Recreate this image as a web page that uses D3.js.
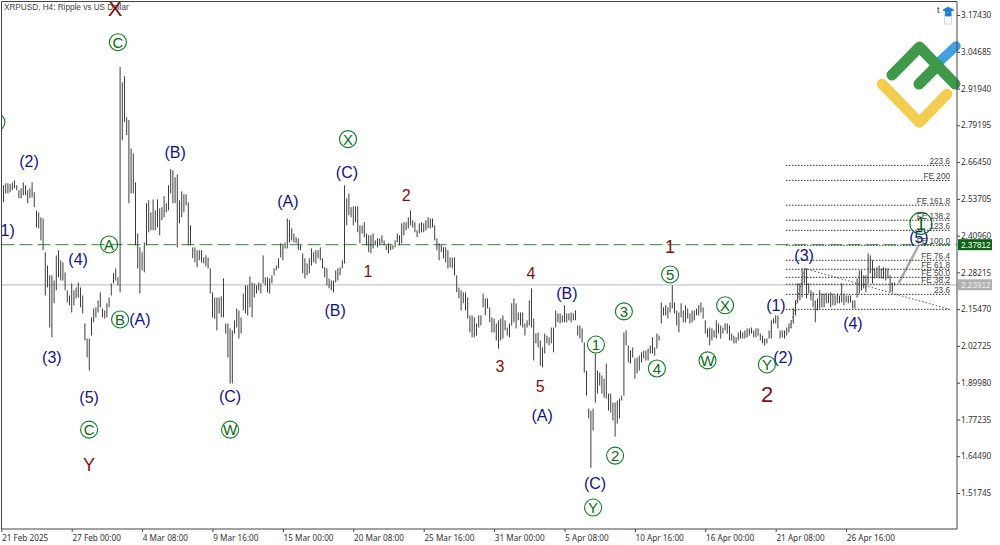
<!DOCTYPE html>
<html>
<head>
<meta charset="utf-8">
<title>XRPUSD, H4</title>
<script src="https://cdn.jsdelivr.net/npm/d3@7/dist/d3.min.js"></script>
<style>
	html, body { margin: 0; padding: 0; background: #fff; overflow: hidden; }
	text { font-family: "Liberation Sans", Arial, sans-serif; }
	.axisText text { font-family: "Noto Sans", sans-serif; font-size: 8.2px; fill: #333; }
</style>
</head>
<body>
<svg id="chart" width="1000" height="545"></svg>
<script>
// bar highs, 10 bars to a row
var highs = [
	2.560,2.584,2.591,2.591,2.588,2.594,2.601,2.584,2.567,2.574,
	2.594,2.584,2.567,2.574,2.594,2.560,2.497,2.490,2.473,2.469,
	2.352,2.306,2.272,2.272,2.254,2.341,2.359,2.324,2.317,2.282,
	2.220,2.202,2.244,2.220,2.230,2.247,2.230,2.202,2.105,2.053,
	2.053,2.126,2.157,2.161,2.185,2.213,2.157,2.150,2.175,2.195,
	2.244,2.279,2.296,2.265,2.994,2.941,2.962,2.820,2.810,2.712,
	2.695,2.594,2.417,2.369,2.352,2.386,2.522,2.532,2.490,2.535,
	2.497,2.535,2.504,2.508,2.546,2.522,2.584,2.640,2.636,2.612,
	2.622,2.532,2.563,2.553,2.553,2.525,2.445,2.369,2.369,2.359,
	2.359,2.359,2.334,2.341,2.334,2.296,2.213,2.195,2.195,2.195,
	2.199,2.261,2.105,2.105,2.088,2.081,2.116,2.157,2.150,2.126,
	2.209,2.237,2.237,2.268,2.247,2.244,2.237,2.247,2.244,2.341,
	2.265,2.265,2.261,2.272,2.296,2.306,2.331,2.383,2.376,2.386,
	2.469,2.463,2.435,2.417,2.404,2.400,2.376,2.348,2.331,2.313,
	2.331,2.365,2.352,2.359,2.359,2.369,2.331,2.300,2.296,2.261,
	2.254,2.254,2.289,2.296,2.300,2.324,2.584,2.539,2.556,2.508,
	2.511,2.511,2.511,2.445,2.445,2.456,2.417,2.411,2.411,2.417,
	2.393,2.400,2.400,2.411,2.393,2.376,2.383,2.376,2.376,2.393,
	2.417,2.411,2.452,2.456,2.456,2.473,2.497,2.463,2.456,2.428,
	2.452,2.456,2.452,2.463,2.473,2.469,2.469,2.445,2.400,2.383,
	2.376,2.369,2.369,2.359,2.334,2.334,2.334,2.272,2.230,2.220,
	2.213,2.213,2.195,2.133,2.133,2.126,2.105,2.133,2.133,2.209,
	2.192,2.192,2.161,2.126,2.122,2.105,2.116,2.122,2.133,2.116,
	2.091,2.105,2.175,2.192,2.175,2.143,2.143,2.143,2.105,2.116,
	2.185,2.227,2.122,2.070,2.074,2.046,2.022,2.070,2.063,2.057,
	2.091,2.091,2.150,2.140,2.140,2.133,2.168,2.140,2.140,2.143,
	2.140,2.150,2.098,2.098,2.088,2.039,1.942,1.810,1.803,1.810,
	2.001,1.942,1.935,1.925,1.914,1.966,1.862,1.862,1.831,1.831,
	1.838,1.845,1.855,2.074,2.081,2.029,2.011,2.022,1.984,1.987,
	1.994,2.005,2.011,2.011,2.018,2.029,2.057,2.022,2.070,2.063,
	2.178,2.161,2.168,2.161,2.178,2.237,2.178,2.150,2.143,2.175,
	2.150,2.168,2.157,2.140,2.150,2.150,2.157,2.168,2.178,2.161,
	2.116,2.088,2.091,2.088,2.081,2.116,2.105,2.098,2.091,2.105,
	2.105,2.098,2.070,2.063,2.057,2.074,2.081,2.074,2.081,2.088,
	2.088,2.091,2.081,2.088,2.088,2.070,2.063,2.053,2.053,2.081,
	2.116,2.122,2.133,2.133,2.081,2.081,2.081,2.091,2.105,2.116,
	2.157,2.185,2.244,2.244,2.296,2.293,2.296,2.244,2.220,2.213,
	2.185,2.192,2.220,2.209,2.209,2.209,2.209,2.213,2.209,2.202,
	2.209,2.202,2.244,2.209,2.202,2.202,2.202,2.185,2.185,2.261,
	2.289,2.289,2.272,2.272,2.348,2.341,2.324,2.296,2.300,2.306,
	2.296,2.300,2.296,2.296,2.272,2.247,2.247
];

// bar lows, same rows
var lows = [
	2.497,2.525,2.556,2.556,2.560,2.567,2.574,2.567,2.539,2.539,
	2.549,2.549,2.522,2.539,2.542,2.508,2.438,2.435,2.393,2.359,
	2.202,2.230,2.091,2.057,2.175,2.220,2.265,2.254,2.254,2.220,
	2.178,2.168,2.143,2.168,2.192,2.195,2.161,2.140,2.046,1.987,
	1.942,2.063,2.109,2.126,2.143,2.161,2.126,2.122,2.126,2.161,
	2.202,2.244,2.254,2.237,2.213,2.740,2.803,2.758,2.522,2.556,
	2.556,2.376,2.296,2.209,2.289,2.282,2.376,2.421,2.428,2.428,
	2.428,2.438,2.411,2.463,2.473,2.490,2.497,2.556,2.522,2.522,
	2.369,2.452,2.473,2.490,2.515,2.376,2.376,2.331,2.317,2.300,
	2.324,2.317,2.313,2.303,2.296,2.209,2.126,2.122,2.081,2.140,
	2.126,2.126,2.070,1.987,1.897,1.897,2.070,2.091,2.053,2.070,
	2.150,2.140,2.133,2.161,2.126,2.195,2.209,2.220,2.209,2.244,
	2.237,2.213,2.209,2.244,2.272,2.289,2.296,2.334,2.324,2.365,
	2.365,2.386,2.393,2.386,2.383,2.359,2.359,2.279,2.261,2.272,
	2.279,2.306,2.317,2.313,2.331,2.324,2.296,2.265,2.237,2.227,
	2.220,2.213,2.247,2.254,2.272,2.296,2.313,2.445,2.480,2.473,
	2.445,2.456,2.421,2.383,2.417,2.404,2.376,2.352,2.348,2.365,
	2.376,2.369,2.376,2.383,2.376,2.359,2.348,2.359,2.362,2.369,
	2.386,2.376,2.383,2.411,2.428,2.435,2.445,2.438,2.421,2.404,
	2.417,2.421,2.421,2.428,2.435,2.435,2.438,2.393,2.359,2.324,
	2.352,2.331,2.317,2.296,2.300,2.296,2.272,2.213,2.192,2.150,
	2.175,2.150,2.122,2.074,2.057,2.057,2.063,2.091,2.098,2.161,
	2.133,2.157,2.109,2.074,2.074,2.046,2.018,2.046,2.053,2.081,
	2.063,2.057,2.098,2.109,2.088,2.116,2.098,2.091,2.063,2.091,
	2.098,2.091,1.977,2.036,2.022,1.959,1.953,2.001,2.036,2.029,
	2.036,2.005,2.091,2.109,2.105,2.109,2.109,2.109,2.116,2.109,
	2.116,2.116,2.063,2.053,2.039,1.935,1.855,1.776,1.605,1.734,
	1.831,1.862,1.890,1.862,1.848,1.845,1.803,1.796,1.769,1.713,
	1.758,1.776,1.838,1.855,2.029,1.970,1.966,1.987,1.914,1.932,
	1.942,1.970,1.984,1.977,1.977,2.001,2.001,1.994,2.018,2.046,
	2.105,2.133,2.133,2.122,2.143,2.157,2.140,2.098,2.074,2.126,
	2.109,2.109,2.122,2.105,2.109,2.116,2.133,2.133,2.143,2.122,
	2.070,2.057,2.029,2.046,2.057,2.053,2.070,2.053,2.070,2.081,
	2.070,2.046,2.046,2.036,2.036,2.046,2.053,2.053,2.053,2.057,
	2.063,2.070,2.057,2.057,2.063,2.046,2.036,2.029,2.036,2.053,
	2.053,2.105,2.105,2.088,2.053,2.057,2.053,2.063,2.074,2.088,
	2.105,2.133,2.175,2.185,2.195,2.244,2.192,2.209,2.185,2.161,
	2.109,2.150,2.157,2.161,2.161,2.175,2.175,2.161,2.168,2.168,
	2.175,2.175,2.178,2.168,2.178,2.175,2.178,2.157,2.157,2.195,
	2.209,2.220,2.227,2.213,2.244,2.279,2.244,2.261,2.265,2.261,
	2.261,2.261,2.254,2.261,2.213,2.213,2.237
];

var priceTicks = [3.17430, 3.04685, 2.91940, 2.79195, 2.66450, 2.53705, 2.40960, 2.28215, 2.15470, 2.02725, 1.89980, 1.77235, 1.64490, 1.51745];
var dateTicks = [0, 32, 64, 96, 128, 160, 192, 224, 256, 288, 320, 352, 384];
var dateLabels = ["21 Feb 2025", "27 Feb 00:00", "4 Mar 08:00", "9 Mar 16:00", "15 Mar 00:00", "20 Mar 08:00", "25 Mar 16:00", "31 Mar 00:00", "5 Apr 08:00", "10 Apr 16:00", "16 Apr 00:00", "21 Apr 08:00", "26 Apr 16:00"];

var targetPrice = 2.37812;
var lastPrice = 2.23912;

// fibonacci levels: name, price
var fibLevels = [
	["223.6", 2.653], ["FE 200", 2.601], ["FE 161.8", 2.515], ["FE 138.2", 2.463],
	["123.6", 2.428], ["FE 100.0", 2.376], ["FE 76.4", 2.324], ["FE 61.8", 2.293],
	["FE 50.0", 2.265], ["FE 38.2", 2.241], ["23.6", 2.206], ["", 2.154]
];

// wave labels: text, bar index, price
var navyLabels = [
	["(1)", 1.7, 2.428], ["(2)", 12.6, 2.667], ["(4)", 34.9, 2.327], ["(3)", 23, 1.987],
	["(5)", 39.9, 1.848], ["(A)", 63, 2.119], ["(B)", 79, 2.699], ["(C)", 104, 1.852],
	["(A)", 130.3, 2.529], ["(B)", 151.7, 2.150], ["(C)", 157.1, 2.629], ["(B)", 257.1, 2.209],
	["(A)", 245.8, 1.786], ["(C)", 269.9, 1.553], ["(1)", 352.1, 2.168], ["(2)", 355.3, 1.987],
	["(3)", 364.9, 2.341], ["(4)", 387.1, 2.105], ["(5)", 417.1, 2.404]
];
// maroon ones also carry a weight: 0 small, 1 medium, 2 big
var maroonLabels = [
	["X", 51.7, 3.198, 2], ["Y", 39.9, 1.616, 1], ["1", 166.7, 2.286, 0], ["2", 184, 2.549, 0],
	["3", 226.7, 1.956, 0], ["4", 240.8, 2.279, 0], ["5", 244.9, 1.887, 0], ["1", 304, 2.372, 1],
	["2", 348.1, 1.859, 2]
];
var circledLabels = [
	["", -2.2, 2.803], ["C", 53, 3.080], ["A", 49, 2.379], ["B", 54, 2.119], ["C", 39.9, 1.737],
	["W", 104, 1.737], ["X", 157.6, 2.744], ["1", 270.3, 2.032], ["3", 283, 2.147], ["2", 279, 1.647],
	["4", 298, 1.949], ["5", 304, 2.275], ["W", 321, 1.977], ["X", 329, 2.168], ["Y", 348, 1.963],
	["Y", 269, 1.467]
];
var bigCircled = ["1", 418, 2.452];

// projected last leg: from bar index / price to bar index / price
var forecast = [[407.9, 2.245], [417, 2.376]];
// trend lines drawn dotted
var trendLines = [
	[[365, 2.296], [431, 2.154]],
	[[358.5, 2.089], [365.3, 2.296]]
];

var svg = d3.select("#chart");
var plot = {left: 1.5, top: 1.5, right: 957, bottom: 529};

var x = d3.scaleLinear().domain([0, 32]).range([1.3, 71.7]);
var y = d3.scaleLinear().domain([priceTicks[0], priceTicks[13]]).range([15, 493]);

svg.append("clipPath").attr("id", "plotclip").append("rect")
	.attr("x", plot.left).attr("y", plot.top)
	.attr("width", plot.right - plot.left).attr("height", plot.bottom - plot.top);

// logo sits behind everything
var drawLogo = function () {
	var logo = svg.append("g").attr("fill", "none").attr("stroke-linecap", "round").attr("stroke-linejoin", "round");
	var path = d3.line();
	logo.append("path").attr("d", path([[939, 62], [956, 46]])).attr("stroke", "#429fe0").attr("stroke-width", 9.5);
	logo.append("path").attr("d", path([[882, 84], [919.5, 122.5], [947, 94]])).attr("stroke", "#f2cd4f").attr("stroke-width", 10.5);
	logo.append("path").attr("d", path([[892, 75], [919.5, 47], [955, 84]])).attr("stroke", "#3f994b").attr("stroke-width", 11);
	logo.append("path").attr("d", path([[919, 84], [938, 65]])).attr("stroke", "#3f994b").attr("stroke-width", 11);

	// little toolbar icons
	svg.append("text").attr("x", 937).attr("y", 13).attr("font-size", "9px").attr("fill", "#333").text("t");
	svg.append("rect").attr("x", 944.5).attr("y", 14).attr("width", 7).attr("height", 10)
		.attr("fill", "none").attr("stroke", "#d8d8d8");
	svg.append("path").attr("d", "M943 10L948 7L954 10L948 13Z M945.5 12V16H951V12").attr("fill", "#1d7fc9").attr("stroke", "#1d7fc9").attr("stroke-width", 0.8);
};

var drawFib = function () {
	var g = svg.append("g");
	g.selectAll("line").data(fibLevels).enter().append("line")
		.attr("x1", 786).attr("x2", 950)
		.attr("y1", function (d) { return y(d[1]); })
		.attr("y2", function (d) { return y(d[1]); })
		.attr("stroke", "#333").attr("stroke-width", 1).attr("stroke-dasharray", "1.5,1.5");
	g.selectAll("text").data(fibLevels).enter().append("text")
		.attr("x", 950)
		.attr("y", function (d) { return y(d[1]) - 1.5; })
		.attr("text-anchor", "end")
		.attr("font-size", "8.2px")
		.attr("font-family", "Noto Sans")
		.attr("fill", "#444")
		.text(function (d) { return d[0]; });

	g.selectAll("line.trend").data(trendLines).enter().append("line")
		.attr("class", "trend")
		.attr("x1", function (d) { return x(d[0][0]); })
		.attr("y1", function (d) { return y(d[0][1]); })
		.attr("x2", function (d) { return x(d[1][0]); })
		.attr("y2", function (d) { return y(d[1][1]); })
		.attr("stroke", "#555").attr("stroke-width", 1).attr("stroke-dasharray", "1.5,2");
};

var drawPriceLines = function (g) {
	g.append("line").attr("x1", plot.left).attr("x2", plot.right)
		.attr("y1", y(lastPrice)).attr("y2", y(lastPrice))
		.attr("stroke", "#c8c8c8").attr("stroke-width", 1.2);
	g.append("line").attr("x1", plot.left).attr("x2", plot.right)
		.attr("y1", y(targetPrice)).attr("y2", y(targetPrice))
		.attr("stroke", "#2f8b2f").attr("stroke-width", 1).attr("stroke-dasharray", "13,5");
};

var drawBars = function (g) {
	g.selectAll("line.bar").data(highs).enter().append("line")
		.attr("class", "bar")
		.attr("x1", function (d, i) { return x(i); })
		.attr("x2", function (d, i) { return x(i); })
		.attr("y1", function (d) { return y(d); })
		.attr("y2", function (d, i) { return y(lows[i]); })
		.attr("stroke", "#333").attr("stroke-width", 0.95);
};

var drawLabels = function (g) {
	g.selectAll("text.navy").data(navyLabels).enter().append("text")
		.attr("class", "navy")
		.attr("x", function (d) { return x(d[1]); })
		.attr("y", function (d) { return y(d[2]); })
		.attr("dy", "0.36em")
		.attr("text-anchor", "middle")
		.attr("font-size", "16px")
		.attr("fill", "#12128a")
		.text(function (d) { return d[0]; });

	var maroonSize = d3.scaleOrdinal().domain([0, 1, 2]).range(["16px", "18px", "22px"]);
	g.selectAll("text.maroon").data(maroonLabels).enter().append("text")
		.attr("class", "maroon")
		.attr("x", function (d) { return x(d[1]); })
		.attr("y", function (d) { return y(d[2]); })
		.attr("dy", "0.36em")
		.attr("text-anchor", "middle")
		.attr("font-size", function (d) { return maroonSize(d[3]); })
		.attr("fill", "#801010")
		.text(function (d) { return d[0]; });

	var circled = g.selectAll("g.circled").data(circledLabels.concat([bigCircled])).enter().append("g")
		.attr("class", "circled")
		.attr("transform", function (d) { return "translate(" + x(d[1]) + "," + y(d[2]) + ")"; });
	circled.append("circle")
		.attr("r", function (d) { return d === bigCircled ? 11 : 8.5; })
		.attr("fill", "none").attr("stroke", "#0a7d1e").attr("stroke-width", 1.1);
	circled.append("text")
		.attr("dy", "0.36em")
		.attr("text-anchor", "middle")
		.attr("font-size", function (d) { return d === bigCircled ? "19px" : "15px"; })
		.attr("fill", "#0a6a14")
		.text(function (d) { return d[0]; });
};

var drawAxes = function () {
	var fmt = d3.format(".5f");
	var yAxis = d3.axisRight(y).tickValues(priceTicks).tickFormat(fmt).tickSize(3).tickPadding(1);
	var xAxis = d3.axisBottom(x).tickValues(dateTicks)
		.tickFormat(function (d, i) { return dateLabels[i]; }).tickSize(3).tickPadding(3);

	var gy = svg.append("g").attr("class", "axisText").attr("transform", "translate(" + plot.right + ",0)").call(yAxis);
	gy.select(".domain").remove();
	gy.selectAll("line").attr("stroke", "#444");

	var gx = svg.append("g").attr("class", "axisText").attr("transform", "translate(0," + plot.bottom + ")").call(xAxis);
	gx.select(".domain").remove();
	gx.selectAll("line").attr("stroke", "#444");
	gx.selectAll("text").attr("text-anchor", "start").attr("dx", "0.2");

	svg.append("path")
		.attr("d", "M" + plot.left + " " + plot.bottom + "V" + plot.top + "H" + plot.right + "V" + plot.bottom + "Z")
		.attr("fill", "none").attr("stroke", "#444").attr("stroke-width", 1);

	// current price boxes on the axis
	var boxes = [[targetPrice, "#0a6414", "#fff"], [lastPrice, "#b0b0b0", "#eee"]];
	boxes.forEach(function (b) {
		svg.append("rect").attr("x", plot.right + 1).attr("y", y(b[0]) - 5.5)
			.attr("width", 34).attr("height", 11).attr("fill", b[1]);
		svg.append("text").attr("x", plot.right + 4).attr("y", y(b[0]) + 3)
			.attr("font-size", "8.2px").attr("font-family", "Noto Sans").attr("fill", b[2])
			.text(fmt(b[0]));
	});
};

drawLogo();
svg.append("text").attr("x", 4).attr("y", 9.5)
	.attr("font-size", "8.2px").attr("font-family", "Noto Sans").attr("fill", "#444")
	.text("XRPUSD, H4:  Ripple vs US Dollar");
var inner = svg.append("g").attr("clip-path", "url(#plotclip)");
drawPriceLines(inner);
drawFib();
drawBars(inner);
inner.append("path")
	.attr("d", d3.line().x(function (d) { return x(d[0]); }).y(function (d) { return y(d[1]); })(forecast))
	.attr("fill", "none").attr("stroke", "#a8a8a8").attr("stroke-width", 2.4);
drawLabels(inner);
drawAxes();
</script>
</body>
</html>
